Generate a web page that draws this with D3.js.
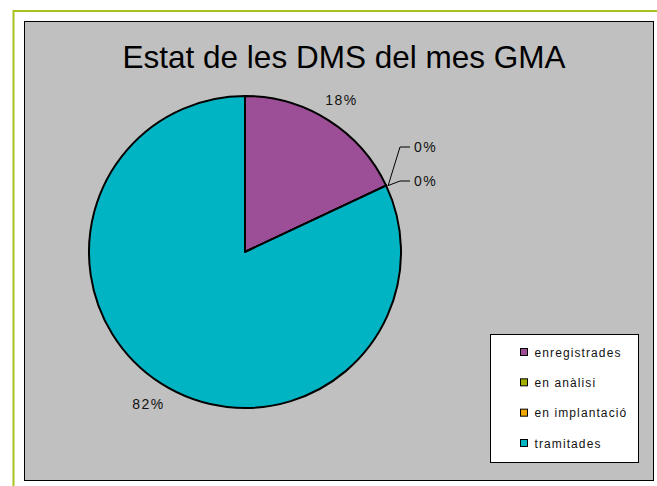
<!DOCTYPE html>
<html lang="ca">
<head>
<meta charset="UTF-8">
<title>Estat de les DMS</title>
<style>
  body { margin: 0; background: #fff; }
  svg { display: block; font-family: "Liberation Sans", Arial, sans-serif; }
</style>
</head>
<body>
<script src="https://d3js.org/d3.v7.min.js"></script>
<script>
const title = 'Estat de les DMS del mes GMA'
const categories = ['enregistrades', 'en anàlisi', 'en implantació', 'tramitades']
const values = [18, 0, 0, 82]
const colors = ['#9C4F96', '#A3B000', '#F0A800', '#00B4C4']

const width = 657, height = 486
const svg = d3.select('body').append('svg')
  .attr('width', width)
  .attr('height', height)

// outer green frame (only top and left visible)
svg.append('line').attr('x1', 13.5).attr('y1', 11).attr('x2', width).attr('y2', 11)
  .attr('stroke', '#A9C21E').attr('stroke-width', 2)
svg.append('line').attr('x1', 13.5).attr('y1', 10).attr('x2', 13.5).attr('y2', height)
  .attr('stroke', '#A9C21E').attr('stroke-width', 2)

// chart area
svg.append('rect')
  .attr('x', 24.5).attr('y', 21.5)
  .attr('width', 629).attr('height', 459)
  .attr('fill', '#C0C0C0')
  .attr('stroke', '#000').attr('stroke-width', 1)

svg.append('text')
  .attr('x', 344).attr('y', 68)
  .attr('text-anchor', 'middle')
  .attr('font-size', 31.5)
  .attr('fill', '#000')
  .text(title)

const cx = 245, cy = 252, r = 156
const g = svg.append('g').attr('transform', `translate(${cx},${cy})`)

const pie = d3.pie().sort(null).value(d => d)
const arcs = pie(values)
const arc = d3.arc().innerRadius(0).outerRadius(r)

g.selectAll('path')
  .data(arcs)
  .enter()
  .append('path')
  .attr('d', arc)
  .attr('fill', (d, i) => colors[i])
  .attr('stroke', '#000')
  .attr('stroke-width', 2)
  .attr('stroke-linejoin', 'round')

const total = d3.sum(values)
const pct = v => Math.round(v / total * 100) + '%'

// labels for the big slices
const labelArc = d3.arc().innerRadius(r + 24).outerRadius(r + 24)
arcs.forEach((d, i) => {
  if (d.value === 0) return
  let p = labelArc.centroid(d)
  g.append('text')
    .attr('x', p[0]).attr('y', p[1])
    .attr('text-anchor', 'middle')
    .attr('dominant-baseline', 'central')
    .attr('font-size', 14)
    .attr('letter-spacing', 1.5)
    .attr('fill', '#111')
    .text(pct(d.value))
})

// labels with leader lines for zero slices
const zeros = arcs.filter(d => d.value === 0)
const labelYs = [147, 181]
zeros.forEach((d, k) => {
  let a = d.startAngle
  let px = Math.sin(a) * r, py = -Math.cos(a) * r
  let ly = labelYs[k] - cy
  let lx = 400 - cx
  g.append('polyline')
    .attr('points', `${px + 2},${py} ${lx},${ly} ${lx + 10},${ly}`)
    .attr('fill', 'none')
    .attr('stroke', '#000')
    .attr('stroke-width', 1)
  g.append('text')
    .attr('x', lx + 14).attr('y', ly)
    .attr('dominant-baseline', 'central')
    .attr('font-size', 14)
    .attr('letter-spacing', 1.5)
    .attr('fill', '#111')
    .text(pct(d.value))
})

// legend
const leg = svg.append('g').attr('transform', 'translate(490.5,334.5)')
leg.append('rect')
  .attr('width', 148).attr('height', 128)
  .attr('fill', '#fff').attr('stroke', '#000')
const ly = d3.scalePoint().domain(categories).range([18, 109])
categories.forEach((c, i) => {
  leg.append('rect')
    .attr('x', 30).attr('y', ly(c) - 4)
    .attr('width', 7).attr('height', 7)
    .attr('fill', colors[i])
    .attr('stroke', '#000').attr('stroke-width', 1)
  leg.append('text')
    .attr('x', 44).attr('y', ly(c))
    .attr('dominant-baseline', 'central')
    .attr('font-size', 12)
    .attr('letter-spacing', 1.1)
    .attr('fill', '#111')
    .text(c)
})
</script>
</body>
</html>
